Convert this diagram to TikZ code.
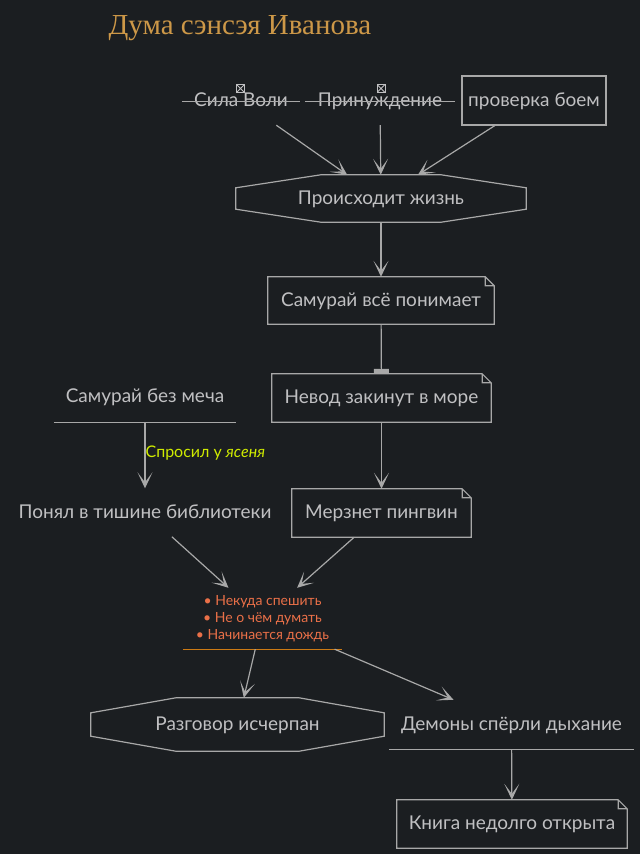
\documentclass[tikz,border=0pt]{standalone}
\usepackage{fontspec}
\setmainfont{Lato}
\newfontfamily\titlefont{Liberation Serif}
\usetikzlibrary{arrows.meta}
\definecolor{bgcol}{RGB}{27,30,33}
\definecolor{txtcol}{RGB}{192,192,194}
\definecolor{linecol}{RGB}{168,168,168}
\definecolor{titlecol}{RGB}{205,152,72}
\definecolor{bulletcol}{RGB}{234,112,72}
\definecolor{ulcol}{RGB}{204,122,20}
\definecolor{lblcol}{RGB}{208,236,0}
\begin{document}
\begin{tikzpicture}[x=1pt,y=-1pt,
  every node/.style={text=txtcol,font=\fontsize{19}{22}\selectfont,inner sep=0pt,text height=15pt,text depth=4pt},
  wire/.style={draw=linecol,line width=1.2pt},
  link/.style={wire,-{Stealth[length=16pt,width=15pt,inset=10pt]}},
  box/.style={draw=linecol,line width=1.2pt,minimum height=49pt},
  plate/.style={minimum height=48pt},
  strike/.style={minimum height=49pt},
  under/.style={minimum height=50pt},
  pinmark/.style={draw=txtcol,line width=0.8pt,minimum size=8pt,text height=,text depth=,
    path picture={\draw[txtcol,line width=0.8pt] (path picture bounding box.north west) -- (path picture bounding box.south east)
      (path picture bounding box.north east) -- (path picture bounding box.south west);}}
]

\fill[bgcol] (0,0) rectangle (640,854);
\useasboundingbox (0,0) rectangle (640,854);

\node[font=\titlefont\fontsize{29}{33}\selectfont,text=titlecol,text height=,text depth=] (title) at (240,28) {Дума сэнсэя Иванова};

\node[strike,minimum width=118pt] (sila) at (241,100.5) {Сила Воли};
\node[strike,minimum width=150pt] (prinuzh) at (380,100.5) {Принуждение};
\node[box,minimum width=144pt] (proverka) at (534,100.5) {проверка боем};
\node[plate,minimum width=290pt,minimum height=47pt] (zhizn) at (381,198.5) {Происходит жизнь};
\node[plate,minimum width=226pt,minimum height=47pt] (ponimaet) at (381,300.5) {Самурай всё понимает};
\node[plate,minimum width=219pt] (nevod) at (381.5,398) {Невод закинут в море};
\node[under,minimum width=182pt] (bezmecha) at (145,397) {Самурай без меча};
\node[plate,minimum width=256pt] (ponyal) at (145,512.5) {Понял в тишине библиотеки};
\node[plate,minimum width=179pt] (pingvin) at (381.5,513) {Мерзнет пингвин};
\node[minimum width=159pt,minimum height=61pt,align=center,text=bulletcol,font=\fontsize{14}{17}\selectfont,text height=,text depth=] (spisok) at (262.5,618.5)
  {• Некуда спешить\\ • Не о чём думать\\ • Начинается дождь};
\node[plate,minimum width=293pt,minimum height=53pt] (razgovor) at (237.5,724.5) {Разговор исчерпан};
\node[under,minimum width=245pt,minimum height=49pt] (demony) at (511.5,724.5) {Демоны спёрли дыхание};
\node[plate,minimum width=230pt] (kniga) at (512,824) {Книга недолго открыта};

\node[pinmark] (silapin) at (240.5,88.5) {};
\node[pinmark] (prinuzhpin) at (381,88.5) {};

\foreach \n in {sila,prinuzh} \draw[wire] ([yshift=-1pt]\n.west) -- ([yshift=-1pt]\n.east);
\foreach \n in {bezmecha,demony} \draw[wire] (\n.south west) -- (\n.south east);
\draw[wire,draw=ulcol] (spisok.south west) -- (spisok.south east);

\foreach \n in {ponimaet,nevod,pingvin,kniga}
  \draw[wire] (\n.north west) -- ([xshift=-9pt]\n.north east) -- ([yshift=-9pt]\n.north east) -- (\n.south east) -- (\n.south west) -- cycle
    ([xshift=-9pt]\n.north east) |- ([yshift=-9pt]\n.north east);

\foreach \n/\d in {zhizn/13,razgovor/15}
  \draw[wire] ([xshift=85pt]\n.north west) -- ([xshift=-85pt]\n.north east) -- ([yshift=-\d pt]\n.north east) -- ([yshift=\d pt]\n.south east)
    -- ([xshift=-85pt]\n.south east) -- ([xshift=85pt]\n.south west) -- ([yshift=\d pt]\n.south west) -- ([yshift=-\d pt]\n.north west) -- cycle;

\draw[link] (sila) -- (zhizn);
\draw[link] (prinuzh) -- (zhizn);
\draw[link] (proverka) -- (zhizn);
\draw[link] (zhizn) -- (ponimaet);
\draw[wire,-{Rectangle[length=5pt,width=15pt]}] (ponimaet) -- (nevod);
\draw[link] (nevod) -- (pingvin);
\draw[link] (bezmecha) -- node[pos=0.47,anchor=west,text=lblcol,font=\fontsize{16}{18}\selectfont,text height=,text depth=] (spros) {Спросил у \textit{ясеня}} (ponyal);
\draw[link] (ponyal) -- (spisok);
\draw[link] (pingvin) -- (spisok);
\draw[link] (spisok) -- (razgovor);
\draw[link] (spisok) -- (demony);
\draw[link] (demony) -- (kniga);

\end{tikzpicture}
\end{document}
